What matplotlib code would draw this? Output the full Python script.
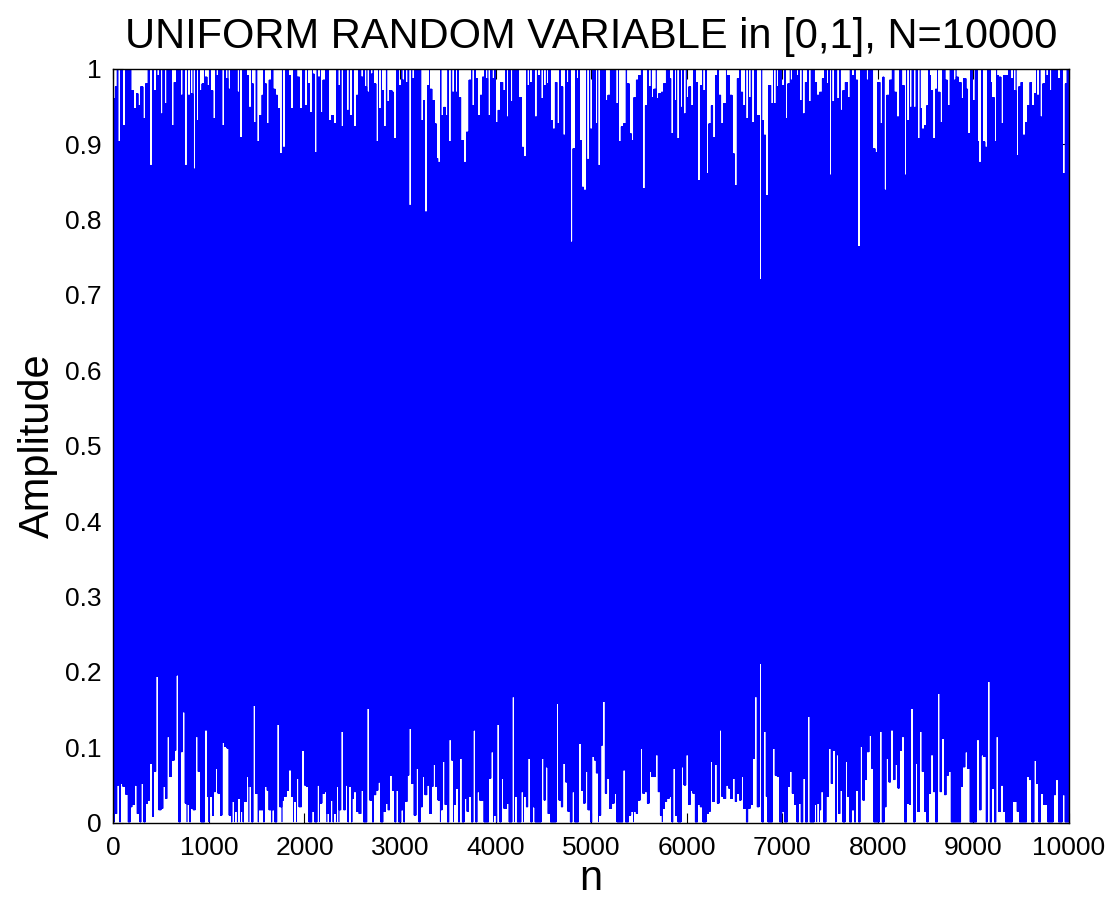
import matplotlib

matplotlib.use("Agg")
import matplotlib.pyplot as plt
import numpy as np

plt.rcParams["font.family"] = ["Liberation Sans", "DejaVu Sans"]
plt.rcParams["path.simplify"] = False

N = 10000
TITLE = "UNIFORM RANDOM VARIABLE in [0,1], N=10000"

# first and last sample as read at the left and right spines
first_value = 0.072
last_value = 0.134

# places where the top of the band drops away from 1 (sample index, value)
top_dips = [
    (5, 0.960), (25, 0.976), (63, 0.903), (112, 0.925), (199, 0.971), (227, 0.947),
    (251, 0.967), (272, 0.951), (297, 0.976), (324, 0.934), (349, 0.980), (394, 0.872),
    (436, 0.971), (471, 0.991), (506, 0.940), (548, 0.954), (621, 0.925), (645, 0.982),
    (715, 0.965), (760, 0.872), (792, 0.965), (820, 0.967), (848, 0.867), (882, 0.931),
    (914, 0.971), (938, 0.980), (970, 0.989), (994, 0.978), (1029, 0.971), (1057, 0.934),
    (1088, 0.991), (1151, 0.925), (1186, 0.987), (1214, 0.973), (1308, 0.969), (1336, 0.909),
    (1405, 0.991), (1430, 0.949), (1458, 0.980), (1479, 0.929), (1517, 0.903), (1541, 0.938),
    (1562, 0.965), (1597, 0.980), (1615, 0.927), (1639, 0.985), (1684, 0.973), (1709, 0.965),
    (1730, 0.947), (1754, 0.887), (1786, 0.896), (1848, 0.991), (1869, 0.947), (1935, 0.989),
    (1963, 0.947), (2016, 0.951), (2047, 0.980), (2068, 0.942), (2099, 0.993), (2117, 0.889),
    (2152, 0.989), (2180, 0.942), (2207, 0.985), (2267, 0.931), (2295, 0.938), (2319, 0.927),
    (2364, 0.978), (2396, 0.923), (2454, 0.945), (2487, 0.938), (2529, 0.923), (2553, 0.965),
    (2605, 0.989), (2640, 0.976), (2668, 0.969), (2703, 0.993), (2738, 0.980), (2762, 0.903),
    (2790, 0.947), (2818, 0.971), (2842, 0.923), (2877, 0.956), (2905, 0.971), (2930, 0.969),
    (2947, 0.907), (2999, 0.978), (3034, 0.985), (3069, 0.982), (3107, 0.819), (3139, 0.987),
    (3233, 0.931), (3247, 0.958), (3271, 0.810), (3296, 0.978), (3324, 0.973), (3348, 0.958),
    (3372, 0.927), (3393, 0.881), (3411, 0.876), (3442, 0.938), (3463, 0.949), (3488, 0.938),
    (3522, 0.903), (3557, 0.969), (3592, 0.969), (3627, 0.962), (3651, 0.905), (3679, 0.876),
    (3707, 0.916), (3732, 0.985), (3766, 0.951), (3801, 0.987), (3826, 0.938), (3847, 0.965),
    (3871, 0.989), (3906, 0.987), (3934, 0.938), (3976, 0.987), (4011, 0.929), (4035, 0.945),
    (4063, 0.982), (4091, 0.971), (4126, 0.936), (4168, 0.956), (4255, 0.962), (4283, 0.896),
    (4307, 0.883), (4342, 0.978), (4370, 0.982), (4422, 0.936), (4453, 0.991), (4488, 0.960),
    (4516, 0.978), (4544, 0.980), (4586, 0.931), (4610, 0.920), (4631, 0.982), (4656, 0.927),
    (4691, 0.976), (4718, 0.912), (4753, 0.982), (4795, 0.770), (4823, 0.894), (4858, 0.987),
    (4893, 0.905), (4914, 0.843), (4935, 0.839), (4969, 0.880), (5000, 0.920), (5056, 0.927),
    (5084, 0.872), (5161, 0.958), (5185, 0.965), (5272, 0.954), (5300, 0.903), (5325, 0.923),
    (5352, 0.927), (5387, 0.980), (5412, 0.914), (5433, 0.905), (5457, 0.962), (5481, 0.985),
    (5509, 0.991), (5551, 0.841), (5579, 0.951), (5614, 0.976), (5642, 0.962), (5666, 0.973),
    (5694, 0.960), (5719, 0.967), (5743, 0.969), (5771, 0.980), (5834, 0.987), (5848, 0.914),
    (5882, 0.958), (5910, 0.907), (5945, 0.949), (5980, 0.940), (6008, 0.962), (6032, 0.976),
    (6057, 0.951), (6102, 0.982), (6127, 0.852), (6154, 0.978), (6182, 0.971), (6217, 0.861),
    (6242, 0.927), (6266, 0.951), (6287, 0.909), (6311, 0.991), (6346, 0.965), (6371, 0.927),
    (6399, 0.954), (6433, 0.991), (6461, 0.965), (6489, 0.887), (6514, 0.845), (6538, 0.987),
    (6573, 0.969), (6601, 0.951), (6632, 0.934), (6660, 0.962), (6695, 0.929), (6747, 0.938),
    (6772, 0.720), (6800, 0.931), (6817, 0.912), (6841, 0.832), (6869, 0.978), (6894, 0.954),
    (6922, 0.954), (6950, 0.976), (7009, 0.978), (7044, 0.934), (7068, 0.980), (7096, 0.985),
    (7159, 0.991), (7194, 0.958), (7225, 0.940), (7253, 0.982), (7288, 0.956), (7347, 0.982),
    (7375, 0.965), (7403, 0.969), (7427, 0.987), (7472, 0.980), (7504, 0.859), (7532, 0.956),
    (7584, 0.960), (7619, 0.945), (7643, 0.971), (7671, 0.982), (7695, 0.962), (7741, 0.991),
    (7776, 0.985), (7803, 0.764), (7890, 0.985), (7960, 0.894), (7985, 0.889), (8009, 0.982),
    (8037, 0.927), (8058, 0.989), (8079, 0.839), (8107, 0.965), (8135, 0.985), (8183, 0.969),
    (8211, 0.936), (8264, 0.978), (8288, 0.859), (8316, 0.931), (8344, 0.949), (8386, 0.949),
    (8427, 0.907), (8456, 0.947), (8473, 0.920), (8497, 0.925), (8518, 0.951), (8553, 0.991),
    (8567, 0.971), (8588, 0.907), (8612, 0.973), (8640, 0.969), (8664, 0.929), (8717, 0.985),
    (8741, 0.951), (8804, 0.985), (8832, 0.989), (8857, 0.982), (8884, 0.960), (8909, 0.987),
    (8937, 0.973), (8954, 0.914), (9003, 0.958), (9055, 0.903), (9069, 0.876), (9111, 0.903),
    (9135, 0.896), (9188, 0.982), (9205, 0.962), (9230, 0.903), (9258, 0.991), (9275, 0.989),
    (9303, 0.927), (9327, 0.991), (9355, 0.991), (9404, 0.987), (9432, 0.971), (9460, 0.885),
    (9484, 0.976), (9508, 0.982), (9529, 0.912), (9554, 0.929), (9578, 0.951), (9599, 0.982),
    (9623, 0.951), (9648, 0.967), (9676, 0.965), (9711, 0.936), (9738, 0.980), (9773, 0.991),
    (9808, 0.971), (9895, 0.987), (9945, 0.861), (9965, 0.980),
]

# places where the bottom of the band lifts off 0 (sample index, value)
bottom_peaks = [
    (25, 0.012), (52, 0.050), (87, 0.052), (112, 0.048), (140, 0.038), (192, 0.021),
    (209, 0.024), (234, 0.050), (262, 0.012), (304, 0.052), (349, 0.026), (373, 0.030),
    (394, 0.079), (419, 0.008), (436, 0.068), (460, 0.194), (488, 0.017), (513, 0.019),
    (534, 0.048), (558, 0.032), (576, 0.114), (600, 0.061), (624, 0.083), (652, 0.096),
    (670, 0.196), (715, 0.094), (736, 0.147), (757, 0.026), (785, 0.024), (820, 0.019),
    (848, 0.017), (872, 0.114), (900, 0.068), (970, 0.123), (987, 0.035), (1022, 0.035),
    (1046, 0.010), (1064, 0.041), (1081, 0.072), (1106, 0.039), (1126, 0.010), (1151, 0.107),
    (1175, 0.101), (1196, 0.099), (1221, 0.010), (1255, 0.028), (1283, 0.015), (1315, 0.032),
    (1343, 0.015), (1378, 0.028), (1405, 0.061), (1433, 0.048), (1475, 0.156), (1500, 0.039),
    (1534, 0.017), (1559, 0.017), (1594, 0.048), (1615, 0.043), (1639, 0.017), (1674, 0.017),
    (1726, 0.130), (1751, 0.021), (1779, 0.030), (1796, 0.035), (1824, 0.043), (1848, 0.070),
    (1873, 0.035), (1901, 0.028), (1929, 0.059), (1956, 0.021), (1984, 0.096), (2005, 0.050),
    (2030, 0.048), (2092, 0.015), (2145, 0.050), (2173, 0.026), (2197, 0.039), (2221, 0.041),
    (2249, 0.012), (2284, 0.030), (2319, 0.012), (2347, 0.048), (2375, 0.017), (2396, 0.121),
    (2417, 0.017), (2441, 0.050), (2476, 0.048), (2511, 0.032), (2529, 0.041), (2556, 0.015),
    (2581, 0.012), (2605, 0.043), (2668, 0.152), (2696, 0.030), (2738, 0.037), (2762, 0.043),
    (2783, 0.054), (2835, 0.015), (2860, 0.026), (2884, 0.017), (2905, 0.063), (2930, 0.043),
    (2971, 0.043), (3024, 0.017), (3062, 0.028), (3087, 0.063), (3107, 0.125), (3132, 0.052),
    (3156, 0.010), (3181, 0.072), (3226, 0.021), (3247, 0.061), (3268, 0.037), (3296, 0.050),
    (3324, 0.012), (3341, 0.048), (3359, 0.077), (3383, 0.048), (3407, 0.030), (3435, 0.017),
    (3456, 0.081), (3481, 0.024), (3526, 0.110), (3547, 0.083), (3575, 0.024), (3596, 0.046),
    (3637, 0.085), (3686, 0.032), (3714, 0.015), (3732, 0.035), (3777, 0.123), (3819, 0.041),
    (3843, 0.030), (3864, 0.030), (3941, 0.059), (3965, 0.094), (3993, 0.010), (4028, 0.130),
    (4073, 0.059), (4098, 0.019), (4126, 0.026), (4185, 0.167), (4213, 0.035), (4279, 0.041),
    (4307, 0.035), (4331, 0.021), (4352, 0.085), (4398, 0.021), (4492, 0.085), (4509, 0.030),
    (4534, 0.074), (4558, 0.012), (4649, 0.158), (4673, 0.030), (4691, 0.021), (4718, 0.079),
    (4743, 0.054), (4767, 0.015), (4813, 0.041), (4882, 0.105), (4907, 0.043), (4928, 0.026),
    (4952, 0.068), (4977, 0.017), (5022, 0.088), (5039, 0.083), (5063, 0.066), (5091, 0.010),
    (5115, 0.103), (5133, 0.161), (5154, 0.039), (5178, 0.059), (5203, 0.019), (5230, 0.026),
    (5255, 0.039), (5345, 0.070), (5405, 0.010), (5429, 0.015), (5457, 0.015), (5481, 0.012),
    (5502, 0.030), (5527, 0.099), (5551, 0.039), (5572, 0.041), (5597, 0.026), (5621, 0.068),
    (5642, 0.061), (5666, 0.061), (5687, 0.090), (5708, 0.041), (5729, 0.010), (5757, 0.019),
    (5781, 0.028), (5806, 0.032), (5830, 0.035), (5869, 0.072), (5893, 0.010), (5956, 0.074),
    (5980, 0.050), (6005, 0.090), (6026, 0.024), (6050, 0.043), (6074, 0.039), (6127, 0.024),
    (6154, 0.021), (6217, 0.012), (6242, 0.015), (6259, 0.081), (6283, 0.028), (6304, 0.077),
    (6329, 0.026), (6353, 0.123), (6374, 0.035), (6399, 0.032), (6423, 0.050), (6444, 0.046),
    (6468, 0.032), (6493, 0.059), (6514, 0.028), (6538, 0.039), (6562, 0.030), (6583, 0.061),
    (6608, 0.019), (6653, 0.019), (6678, 0.024), (6702, 0.085), (6723, 0.167), (6747, 0.021),
    (6772, 0.211), (6817, 0.121), (6834, 0.035), (6911, 0.099), (6932, 0.063), (6957, 0.061),
    (7009, 0.015), (7068, 0.048), (7089, 0.068), (7113, 0.039), (7138, 0.024), (7183, 0.026),
    (7229, 0.059), (7277, 0.141), (7347, 0.024), (7375, 0.026), (7403, 0.017), (7417, 0.041),
    (7472, 0.035), (7496, 0.099), (7517, 0.052), (7542, 0.096), (7577, 0.090), (7601, 0.012),
    (7618, 0.043), (7671, 0.081), (7688, 0.035), (7740, 0.017), (7782, 0.043), (7828, 0.101),
    (7852, 0.030), (7873, 0.057), (7897, 0.094), (7922, 0.116), (7943, 0.072), (8030, 0.121),
    (8079, 0.021), (8100, 0.085), (8124, 0.054), (8148, 0.123), (8170, 0.057), (8194, 0.077),
    (8218, 0.046), (8239, 0.096), (8264, 0.114), (8316, 0.026), (8340, 0.024), (8358, 0.152),
    (8403, 0.079), (8427, 0.015), (8448, 0.121), (8473, 0.068), (8497, 0.015), (8542, 0.039),
    (8567, 0.090), (8588, 0.041), (8637, 0.172), (8658, 0.041), (8682, 0.112), (8706, 0.037),
    (8727, 0.063), (8752, 0.068), (8881, 0.048), (8902, 0.074), (8926, 0.094), (8950, 0.072),
    (9048, 0.110), (9073, 0.017), (9093, 0.090), (9118, 0.088), (9160, 0.187), (9205, 0.046),
    (9250, 0.114), (9275, 0.015), (9299, 0.050), (9320, 0.015), (9421, 0.028), (9442, 0.028),
    (9467, 0.015), (9571, 0.061), (9596, 0.057), (9648, 0.083), (9669, 0.052), (9718, 0.039),
    (9739, 0.024), (9763, 0.024), (9850, 0.037), (9874, 0.057), (9944, 0.037),
]

x_ticks = list(range(0, 10001, 1000))
y_ticks = [0, 0.1, 0.2, 0.3, 0.4, 0.5, 0.6, 0.7, 0.8, 0.9, 1]
y_tick_labels = ["0", "0.1", "0.2", "0.3", "0.4", "0.5", "0.6", "0.7", "0.8", "0.9", "1"]


def build_samples(half_width=13):
    # the trace swings between the top and the bottom of the band,
    # the read dips and peaks cap it in the columns where they sit
    upper = np.full(N, 0.999)
    lower = np.full(N, 0.001)

    for n, value in top_dips:
        lo, hi = max(n - half_width, 1), min(n + half_width, N)
        upper[lo - 1:hi] = np.minimum(upper[lo - 1:hi], value)

    for n, value in bottom_peaks:
        lo, hi = max(n - half_width, 1), min(n + half_width, N)
        lower[lo - 1:hi] = np.maximum(lower[lo - 1:hi], value)

    index = np.arange(1, N + 1)
    samples = np.where(index % 2 == 0, upper, lower)
    samples[0] = first_value
    samples[-1] = last_value
    return index, samples


def plot_uniform(save=True):
    index, samples = build_samples()

    fig = plt.figure(figsize=(11.11, 9.08), dpi=100)
    ax = fig.add_axes([0.102, 0.0939, 0.8602, 0.8304])

    ax.plot(index, samples, color="#0000ff", linewidth=0.45)

    ax.set_xlim(0, N)
    ax.set_ylim(0, 1)
    ax.set_xticks(x_ticks)
    ax.set_xticklabels([str(t) for t in x_ticks])
    ax.set_yticks(y_ticks)
    ax.set_yticklabels(y_tick_labels)

    ax.tick_params(axis="both", direction="in", top=True, right=True,
                   length=7, width=0.8, labelsize=19, colors="black")
    ax.tick_params(axis="x", pad=9.5)
    ax.tick_params(axis="y", pad=8.4)
    for spine in ax.spines.values():
        spine.set_linewidth(1.0)
        spine.set_zorder(3)

    ax.set_title(TITLE, fontsize=30, pad=15)

    ax.set_xlabel("n", fontsize=30)
    ax.xaxis.set_label_coords(0.5, -0.0893)
    ax.xaxis.label.set_va("baseline")

    ax.set_ylabel("Amplitude", fontsize=30)
    ax.yaxis.set_label_coords(-0.0788, 0.5)
    ax.yaxis.label.set_va("center")

    if save:
        fig.savefig("out.png", dpi=100)
    else:
        plt.show()


plot_uniform()
